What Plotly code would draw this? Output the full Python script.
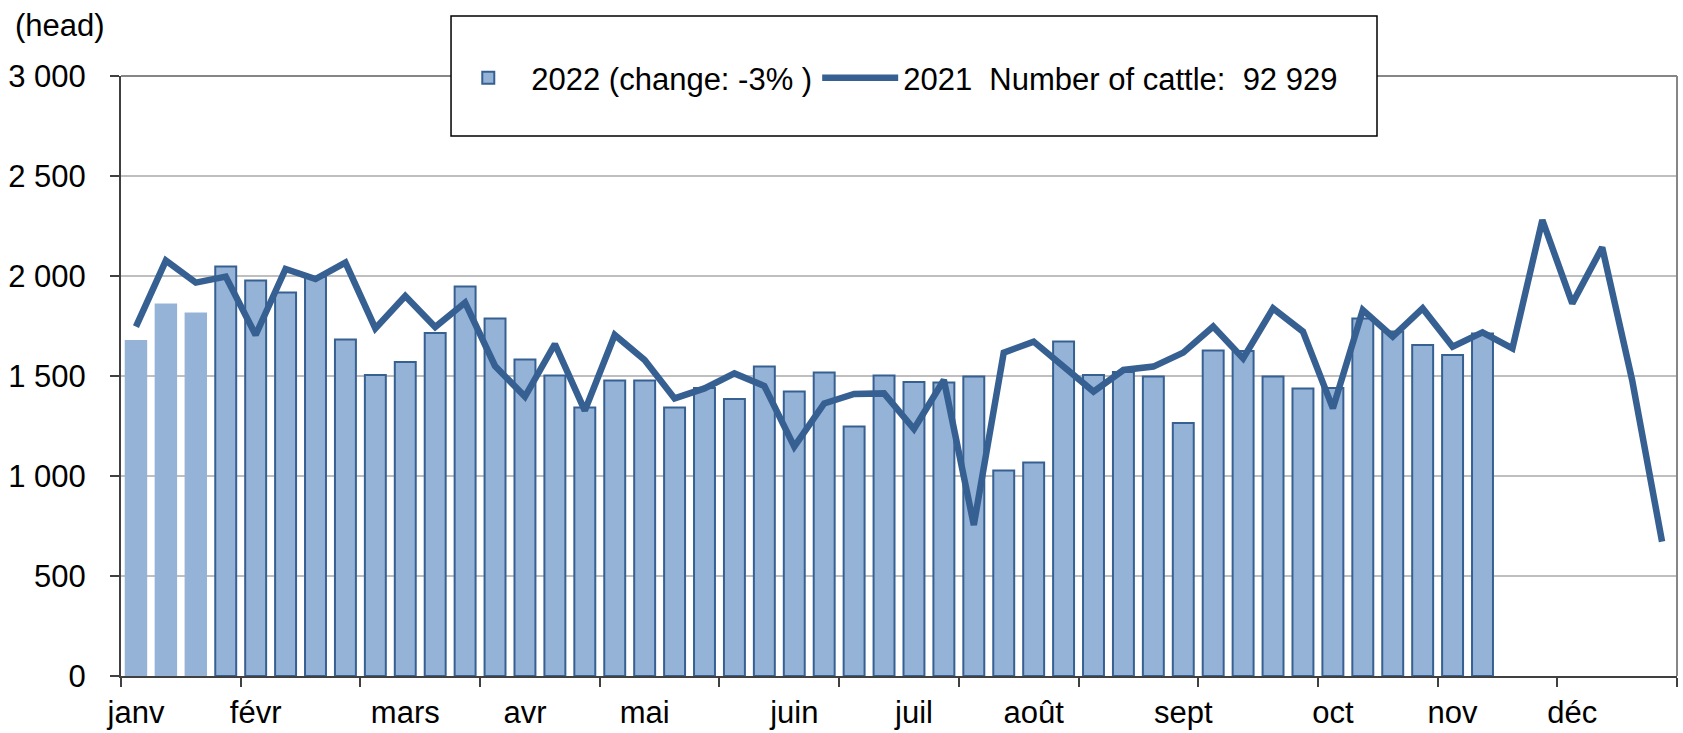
"""Weekly cattle slaughter: 2022 bars against the 2021 line."""

import plotly.graph_objects as go

# ── data ────────────────────────────────────────────────────────
weeks_2021 = list(range(52))
cattle_2021 = [
    1747, 2077, 1967, 1997, 1705, 2035, 1985, 2067, 1738, 1900,
    1745, 1867, 1550, 1397, 1660, 1327, 1705, 1580, 1388, 1438,
    1513, 1450, 1147, 1363, 1410, 1413, 1235, 1480, 755, 1617,
    1672, 1547, 1422, 1530, 1547, 1617, 1747, 1588, 1838, 1722,
    1338, 1830, 1697, 1838, 1647, 1718, 1638, 2280, 1863, 2143,
    1480, 672,
]

weeks_2022 = list(range(46))
cattle_2022 = [
    1680, 1863, 1817, 2048, 1978, 1917, 1995, 1682, 1505, 1570,
    1715, 1948, 1787, 1583, 1503, 1343, 1478, 1477, 1342, 1440,
    1385, 1547, 1422, 1517, 1247, 1503, 1470, 1467, 1497, 1028,
    1067, 1673, 1505, 1520, 1497, 1265, 1628, 1625, 1497, 1438,
    1440, 1788, 1722, 1655, 1605, 1713,
]
n_provisional = 3  # first weeks drawn without outline

month_pos = [0, 4, 9, 13, 17, 22, 26, 30, 35, 40, 44, 48]
month_labels = ["janv", "févr", "mars", "avr", "mai", "juin",
                "juil", "août", "sept", "oct", "nov", "déc"]

name_2022 = "2022 (change: -3% )"
name_2021 = "2021\u00a0\u00a0Number of cattle:\u00a0\u00a092\u00a0929"

# ── styling ─────────────────────────────────────────────────────
FILL = "#95B3D7"
DARK = "#376092"
AXIS = "#404040"
FONT = "Liberation Sans, Arial, sans-serif"
FS = 31

fig = go.Figure()
# main 2022 bars (outlined) – this one carries the legend entry
fig.add_trace(go.Bar(
    x=weeks_2022[n_provisional:],
    y=cattle_2022[n_provisional:],
    name=name_2022,
    width=0.7,
    marker={"color": FILL, "line": {"color": DARK, "width": 2}},
))
# first weeks, no outline
fig.add_trace(go.Bar(
    x=weeks_2022[:n_provisional],
    y=cattle_2022[:n_provisional],
    name=name_2022,
    width=0.75,
    showlegend=False,
    marker={"color": FILL, "line": {"width": 0}},
))
fig.add_trace(go.Scatter(
    x=weeks_2021,
    y=cattle_2021,
    name=name_2021,
    mode="lines",
    line={"color": DARK, "width": 6.5},
))

fig.update_layout(
    width=1683,
    height=733,
    margin={"l": 121, "r": 6, "t": 76, "b": 57},
    paper_bgcolor="white",
    plot_bgcolor="white",
    font={"family": FONT, "size": FS, "color": "black"},
    separators=", ",
    barmode="overlay",
    showlegend=True,
    legend={
        "orientation": "h",
        "x": 0.2084, "xanchor": "left",
        "y": 0.9967, "yanchor": "middle",
        "bgcolor": "rgba(0,0,0,0)",
        "borderwidth": 0,
        "itemwidth": 76,
        "font": {"size": FS, "color": "black"},
    },
    xaxis={
        "range": [-0.5, 51.5],
        "automargin": False,
        "tickmode": "array",
        "tickvals": month_pos,
        "ticktext": month_labels,
        "ticks": "",
        "ticklabelstandoff": 8,
        "showgrid": False,
        "zeroline": False,
        "showline": True,
        "linecolor": AXIS,
        "linewidth": 2,
        "minor": {
            "tickmode": "linear", "tick0": -0.5, "dtick": 4,
            "ticks": "outside", "ticklen": 9, "tickwidth": 2,
            "tickcolor": AXIS, "showgrid": False,
        },
    },
    yaxis={
        "range": [0, 3000],
        "automargin": False,
        "dtick": 500,
        "tickformat": ",d",
        "ticks": "outside",
        "ticklen": 9,
        "tickwidth": 2,
        "tickcolor": AXIS,
        "ticklabelstandoff": 18,
        "showgrid": True,
        "gridcolor": "#BFBFBF",
        "gridwidth": 2,
        "zeroline": False,
        "showline": True,
        "linecolor": AXIS,
        "linewidth": 2,
    },
    shapes=[
        # top and right edges of the plot area
        {"type": "line", "xref": "paper", "yref": "paper",
         "x0": 0, "x1": 1, "y0": 1, "y1": 1,
         "line": {"color": "#868686", "width": 2}, "layer": "above"},
        {"type": "line", "xref": "paper", "yref": "paper",
         "x0": 1, "x1": 1, "y0": 0, "y1": 1,
         "line": {"color": "#868686", "width": 2}, "layer": "above"},
        # legend box
        {"type": "rect", "xref": "paper", "yref": "paper",
         "x0": 0.2121, "x1": 0.8072, "y0": 0.9, "y1": 1.1,
         "line": {"color": "black", "width": 1.5},
         "fillcolor": "white", "layer": "above"},
    ],
    annotations=[
        {"text": "(head)", "xref": "paper", "yref": "paper",
         "x": -0.0694, "y": 1.085, "xanchor": "left", "yanchor": "middle",
         "showarrow": False, "font": {"size": FS}},
    ],
)

fig.write_html(
    "out.html",
    config={"displayModeBar": False},
    post_script="document.body.style.margin='0';",
)
